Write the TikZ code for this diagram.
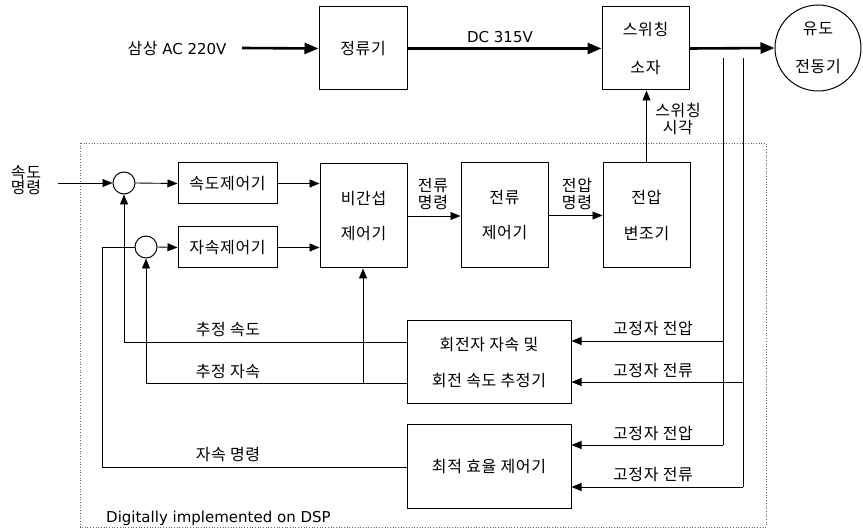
\documentclass[tikz,border=0pt]{standalone}
\usepackage{fontspec}
\setmainfont{DejaVu Sans}
\newfontfamily\kr[LetterSpace=4]{Noto Sans CJK KR}
\usetikzlibrary{arrows.meta}
\tikzset{
  box/.style={draw, line width=1pt, align=center, inner sep=0pt, font=\kr\fontsize{16}{17}\selectfont},
  kr/.style={font=\kr\fontsize{16}{17}\selectfont, align=center, inner sep=0pt},
  lat/.style={font=\fontsize{15}{17}\selectfont, inner sep=0pt},
  ln/.style={line width=0.9pt},
  arr/.style={line width=0.9pt, -{Triangle[length=10pt,width=8pt]}},
  thk/.style={line width=2.6pt, -{Triangle[length=14pt,width=11pt]}},
  sumc/.style={circle, draw, line width=1pt, minimum size=22pt, inner sep=0pt},
}
\begin{document}
\begin{tikzpicture}[x=1pt,y=-1pt]
\useasboundingbox (0,0) rectangle (863,529);
% DSP dotted frame
\draw[dotted, line width=0.7pt, black!60] (80,143) rectangle (766,527);
\node[lat, anchor=west] (dsp) at (106,518) {Digitally implemented on DSP};

% power path
\node[box, minimum width=88pt, minimum height=83pt] (rect) at (363,48.5) {정류기};
\node[box, minimum width=87pt, minimum height=83pt] (sw) at (645.5,48.5) {스위칭\\[21pt]소자};
\node[box, circle, minimum size=86pt] (motor) at (818,48) {유도\\[21pt]전동기};
\node[lat] (ac) at (177,48) {{\kr\fontsize{16}{17}\selectfont 삼상} AC 220V};
\coordinate (acin) at (242,48);
\draw[thk] (acin) -- (rect.west);
\draw[thk] (rect.east) -- (sw.west);
\node[lat] (dc) at (500,37) {DC 315V};
\draw[thk] (sw.east) -- (motor.west);

% control blocks
\node[sumc] (s1) at (124,183) {};
\node[sumc] (s2) at (146,247) {};
\node[box, minimum width=99pt, minimum height=41pt] (spd) at (227.5,183.5) {속도제어기};
\node[box, minimum width=99pt, minimum height=41pt] (flx) at (227.5,247.5) {자속제어기};
\node[box, minimum width=87pt, minimum height=104pt] (dec) at (363.5,216) {비간섭\\[18pt]제어기};
\node[box, minimum width=87pt, minimum height=105pt] (cc) at (504.5,215.5) {전류\\[18pt]제어기};
\node[box, minimum width=87pt, minimum height=105pt] (vm) at (646.5,215.5) {전압\\[19pt]변조기};
\node[box, minimum width=164pt, minimum height=83pt] (est) at (489,362.5) {회전자 자속 및\\[19pt]회전 속도 추정기};
\node[box, minimum width=164pt, minimum height=83pt] (opt) at (489,466.5) {최적 효율 제어기};

% labels
\node[kr, font=\kr\fontsize{16}{15}\selectfont] (cmd) at (26,180) {속도\\명령};
\node[kr] (lcur) at (433,194) {전류\\명령};
\node[kr] (lvol) at (577,194) {전압\\명령};
\node[kr] (lsw) at (678,119) {스위칭\\시각};
\node[kr] (l1) at (228,330) {추정 속도};
\node[kr] (l2) at (228,372) {추정 자속};
\node[kr] (l3) at (228,455) {자속 명령};
\node[kr] (l4) at (653,329) {고정자 전압};
\node[kr] (l5) at (653,371) {고정자 전류};
\node[kr] (l6) at (653,434) {고정자 전압};
\node[kr] (l7) at (653,475) {고정자 전류};

% forward connectors
\coordinate (cin) at (58,183);
\draw[arr] (cin) -- (s1.west);
\draw[arr] (s1.east) -- (spd.west);
\draw[arr] (spd.east) -- (spd.east -| dec.west);
\draw[arr] (s2.east) -- (flx.west);
\draw[arr] (flx.east) -- (flx.east -| dec.west);
\draw[arr] (dec.east) -- (dec.east -| cc.west);
\draw[arr] (cc.east) -- (cc.east -| vm.west);
\draw[arr] (vm.north) -- (vm.north |- sw.south);

% feedback from motor lines
\coordinate (vtop) at (723,58);
\coordinate (vbot) at (723,445);
\coordinate (vmid) at (723,341);
\coordinate (itop) at (743,58);
\coordinate (ibot) at (743,487);
\coordinate (imid) at (743,382);
\draw[ln] (vtop) -- (vbot);
\draw[ln] (itop) -- (ibot);
\draw[arr] (vmid) -- (vmid -| est.east);
\draw[arr] (imid) -- (imid -| est.east);
\draw[arr] (vbot) -- (vbot -| opt.east);
\draw[arr] (ibot) -- (ibot -| opt.east);

% estimator outputs
\coordinate (e1) at (407,342);
\coordinate (e2) at (407,383);
\coordinate (tap) at (363,383);
\draw[arr] (e1) -| (s1.south);
\draw[arr] (e2) -| (s2.south);
\draw[arr] (tap) -- (tap |- dec.south);

% flux command
\coordinate (o1) at (407,467);
\coordinate (fc) at (102,247);
\draw[ln] (o1) -| (fc) -- (s2.west);
\end{tikzpicture}
\end{document}
